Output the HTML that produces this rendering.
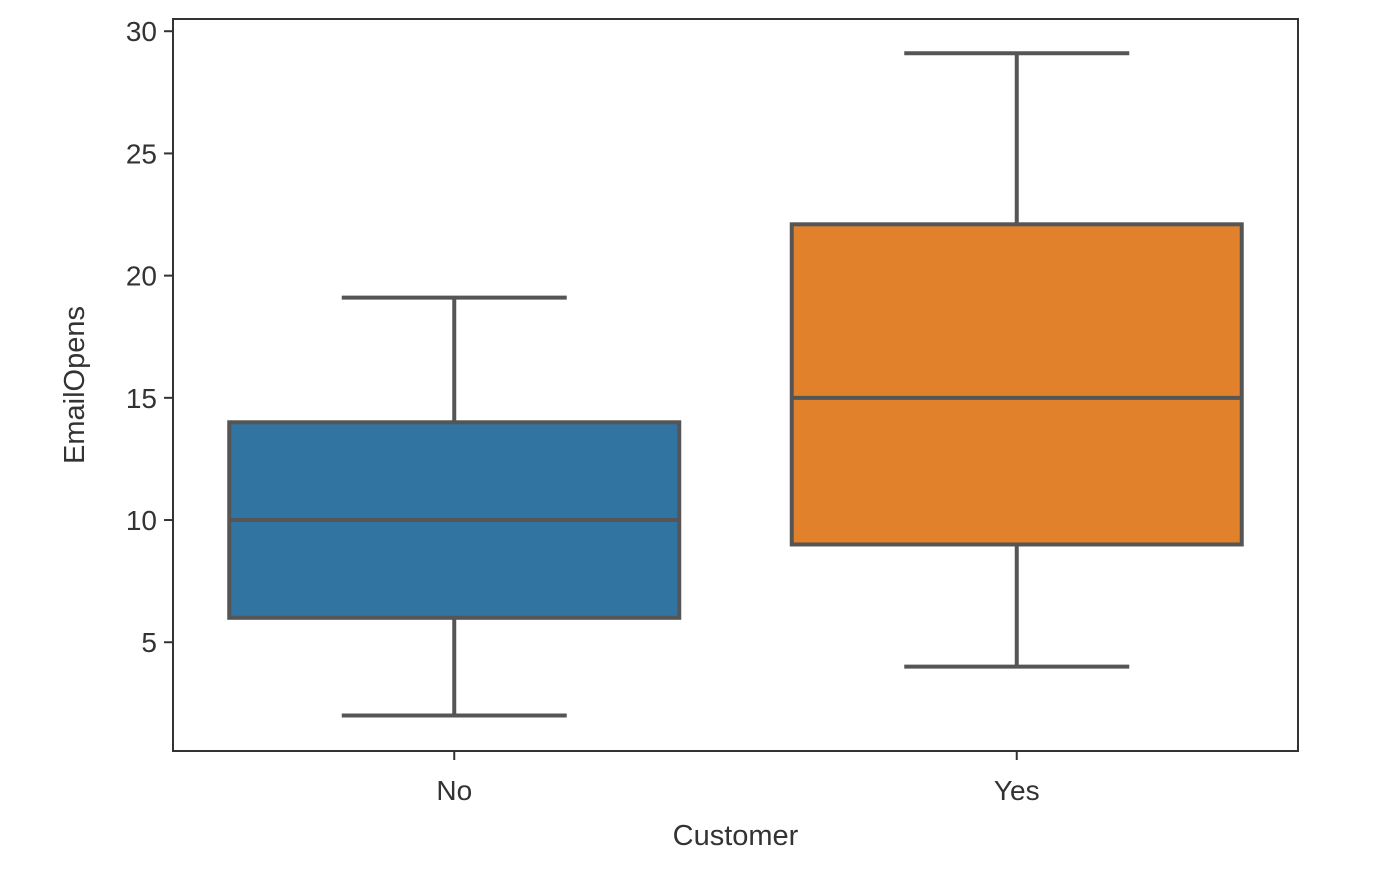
<!DOCTYPE html>
<html><head><meta charset="utf-8"><style>
html,body{margin:0;padding:0;background:#fff;}
svg text{font-family:"Liberation Sans","DejaVu Sans",sans-serif;fill:#333;}
</style></head><body>
<svg id="chart" width="1400" height="882" xmlns="http://www.w3.org/2000/svg"></svg>
<script>
const categories = ["No", "Yes"];
const whiskerLow = [2, 4];
const q1 = [6, 9];
const median = [10, 15];
const q3 = [14, 22.1];
const whiskerHigh = [19.1, 29.1];
const colors = ["#3274a1", "#e1812c"];
const yTicks = [5, 10, 15, 20, 25, 30];

const L = 173, R = 1298, T = 19, B = 751;
const yMin = 0.55, yMax = 30.5;
const y = v => B - (v - yMin) / (yMax - yMin) * (B - T);
const band = (R - L) / categories.length;
const x = i => L + band * (i + 0.5);
const NS = "http://www.w3.org/2000/svg";
const svg = document.getElementById('chart');
function mk(tag, attrs, parent) {
  const e = document.createElementNS(NS, tag);
  for (const k in attrs) e.setAttribute(k, attrs[k]);
  (parent || svg).appendChild(e);
  return e;
}
const line = "#555555";
categories.forEach((c, i) => {
  const g = mk('g', {});
  
  
  const cx = x(i), bw = band * 0.8, cw = band * 0.4;
  mk('line', {x1: cx, x2: cx, y1: y(whiskerLow[i]), y2: y(q1[i]), stroke: line, 'stroke-width': 4}, g);
  mk('line', {x1: cx, x2: cx, y1: y(q3[i]), y2: y(whiskerHigh[i]), stroke: line, 'stroke-width': 4}, g);
  mk('line', {x1: cx - cw / 2, x2: cx + cw / 2, y1: y(whiskerLow[i]), y2: y(whiskerLow[i]), stroke: line, 'stroke-width': 4}, g);
  mk('line', {x1: cx - cw / 2, x2: cx + cw / 2, y1: y(whiskerHigh[i]), y2: y(whiskerHigh[i]), stroke: line, 'stroke-width': 4}, g);
  mk('rect', {x: cx - bw / 2, y: y(q3[i]), width: bw, height: y(q1[i]) - y(q3[i]), fill: colors[i], stroke: line, 'stroke-width': 4}, g);
  mk('line', {x1: cx - bw / 2, x2: cx + bw / 2, y1: y(median[i]), y2: y(median[i]), stroke: line, 'stroke-width': 4}, g);
  mk('line', {x1: cx, x2: cx, y1: B, y2: B + 9, stroke: '#333', 'stroke-width': 2});
  const t = mk('text', {x: cx, y: B + 49, 'text-anchor': 'middle', 'font-size': 28});
  t.textContent = c;
  
  
});
yTicks.forEach(v => {
  mk('line', {x1: L - 9, x2: L, y1: y(v), y2: y(v), stroke: '#333', 'stroke-width': 2});
  const t = mk('text', {x: L - 16, y: y(v) + 10, 'text-anchor': 'end', 'font-size': 28});
  t.textContent = v;
  
  
});
const frame = mk('rect', {x: L, y: T, width: R - L, height: B - T, fill: 'none', stroke: '#333', 'stroke-width': 2});


const xl = mk('text', {x: (L + R) / 2, y: 845, 'text-anchor': 'middle', 'font-size': 29});
xl.textContent = 'Customer';


const yl = mk('text', {x: 0, y: 0, 'text-anchor': 'middle', 'font-size': 29, transform: 'translate(84,' + ((T + B) / 2) + ') rotate(-90)'});
yl.textContent = 'EmailOpens';


</script>
</body></html>
